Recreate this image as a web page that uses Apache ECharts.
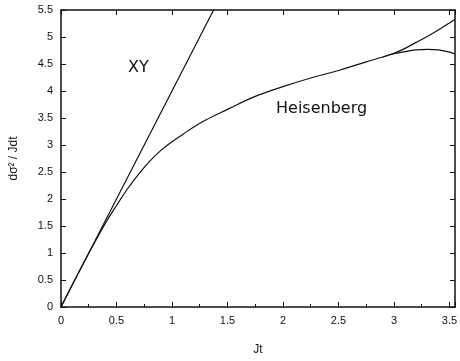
<!DOCTYPE html>
<html><head><meta charset="utf-8">
<script src="https://cdn.jsdelivr.net/npm/echarts@6/dist/echarts.min.js"></script>
<style>html,body{margin:0;padding:0;background:#fff}#c{width:460px;height:361px}</style>
</head><body><div id="c"></div>
<script>
// XY: straight line
const xyX = [0, 0.5, 1.0, 1.375];
const xyY = [0, 2.0, 4.0, 5.5];
// Heisenberg common part
const heisX = [0, 0.2, 0.4, 0.5, 0.6, 0.7, 0.8, 0.9, 1.0, 1.1, 1.2, 1.3, 1.5, 1.75, 2.0, 2.25, 2.5, 2.75, 2.9];
const heisY = [0, 0.8, 1.55, 1.88, 2.19, 2.46, 2.7, 2.9, 3.06, 3.2, 3.34, 3.46, 3.66, 3.9, 4.08, 4.24, 4.38, 4.54, 4.63];
// branch above
const upX = [2.9, 3.0, 3.1, 3.2, 3.3, 3.4, 3.5, 3.55];
const upY = [4.63, 4.7, 4.79, 4.9, 5.01, 5.13, 5.26, 5.33];
// branch below
const loX = [2.9, 3.0, 3.1, 3.2, 3.3, 3.4, 3.5, 3.55];
const loY = [4.63, 4.69, 4.73, 4.76, 4.77, 4.76, 4.72, 4.69];
const xTicks = [0, 0.5, 1, 1.5, 2, 2.5, 3, 3.5];
const yTicks = [0, 0.5, 1, 1.5, 2, 2.5, 3, 3.5, 4, 4.5, 5, 5.5];

const pair = (xs, ys) => xs.map((x, i) => [x, ys[i]]);
const FONT = 'Liberation Sans, Arial, sans-serif';
const FONT2 = 'DejaVu Sans, sans-serif';
const chart = echarts.init(document.getElementById('c'));
const lineCol = '#111';
const xLabelFmt = v => xTicks.some(t => Math.abs(t - v) < 1e-9) ? String(v) : '';
const yLabelFmt = v => yTicks.some(t => Math.abs(t - v) < 1e-9) ? String(v) : '';
const axBase = {
  axisLine: {show: true, onZero: false, lineStyle: {color: lineCol, width: 1.5}},
  splitLine: {show: false},
};
chart.setOption({
  animation: false,
  backgroundColor: '#fff',
  grid: {left: 55, right: 4, top: 10, bottom: 54},
  xAxis: [
    Object.assign({}, axBase, {
      type: 'value', min: 0, max: 3.55, interval: 0.5, position: 'bottom',
      name: 'Jt', nameLocation: 'middle', nameGap: 37,
      nameTextStyle: {color: '#111', fontSize: 12, fontFamily: FONT},
      axisTick: {show: true, inside: true, length: 5, lineStyle: {color: lineCol}},
      minorTick: {show: true, splitNumber: 2, length: 3, lineStyle: {color: lineCol}},
      axisLabel: {color: '#111', fontSize: 11, fontFamily: FONT, margin: 8, formatter: xLabelFmt}
    }),
    Object.assign({}, axBase, {
      type: 'value', min: 0, max: 3.55, interval: 0.5, position: 'top',
      axisTick: {show: true, inside: true, length: 5, lineStyle: {color: lineCol}},
      axisLabel: {show: false}
    })
  ],
  yAxis: [
    Object.assign({}, axBase, {
      type: 'value', min: 0, max: 5.5, interval: 0.5, position: 'left',
      name: 'dσ² / Jdt', nameLocation: 'middle', nameGap: 41,
      nameTextStyle: {color: '#111', fontSize: 12, fontFamily: FONT},
      axisTick: {show: true, inside: true, length: 5, lineStyle: {color: lineCol}},
      axisLabel: {color: '#111', fontSize: 11, fontFamily: FONT, margin: 8, formatter: yLabelFmt}
    }),
    Object.assign({}, axBase, {
      type: 'value', min: 0, max: 5.5, interval: 0.5, position: 'right',
      axisTick: {show: true, inside: true, length: 5, lineStyle: {color: lineCol}},
      axisLabel: {show: false}
    })
  ],
  series: [
    {type: 'line', data: pair(xyX, xyY), symbol: 'none', lineStyle: {color: lineCol, width: 1.2}},
    {type: 'line', data: pair(heisX, heisY), symbol: 'none', smooth: 0.4, lineStyle: {color: lineCol, width: 1.2}},
    {type: 'line', data: pair(upX, upY), symbol: 'none', smooth: 0.4, lineStyle: {color: lineCol, width: 1.2}},
    {type: 'line', data: pair(loX, loY), symbol: 'none', smooth: 0.4, lineStyle: {color: lineCol, width: 1.2}}
  ],
  graphic: [
    {type: 'text', left: 128, top: 60, style: {text: 'XY', fontSize: 16, fontFamily: FONT2, fill: '#111'}},
    {type: 'text', left: 276, top: 101, style: {text: 'Heisenberg', fontSize: 16, fontFamily: FONT2, fill: '#111'}}
  ]
});
</script></body></html>
